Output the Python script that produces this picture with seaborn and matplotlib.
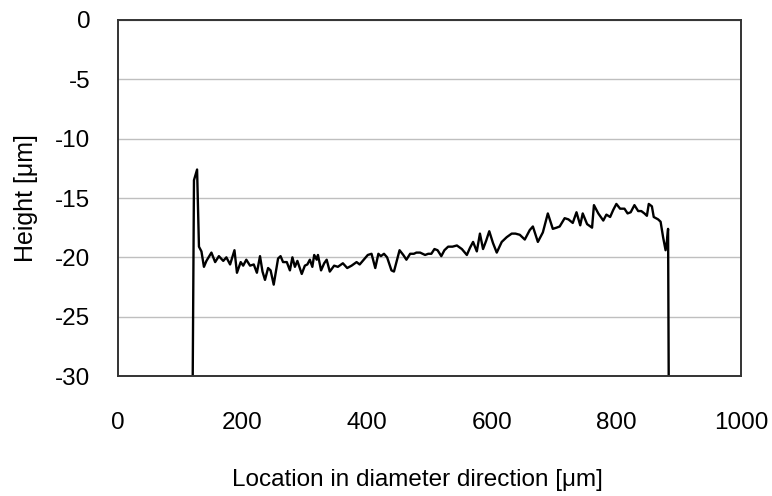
import numpy as np
import pandas as pd
import matplotlib
matplotlib.use("Agg")
import matplotlib.pyplot as plt
import seaborn as sns

# Surface profile across the diameter
location = [120, 122, 127, 130, 134, 138, 142, 150, 156, 162, 169, 174, 180, 187, 191,
            197, 201, 206, 212, 218, 223, 228, 232, 236, 241, 245, 250, 257, 261, 265,
            271, 276, 280, 284, 288, 295, 300, 304, 308, 312, 315, 319, 321, 326, 331,
            335, 340, 347, 353, 361, 368, 375, 383, 388, 396, 401, 407, 413, 418, 422,
            427, 432, 439, 443, 452, 458, 463, 469, 475, 479, 485, 489, 493, 498, 503,
            508, 513, 519, 524, 530, 537, 544, 552, 560, 565, 570, 576, 581, 586, 591,
            596, 602, 608, 616, 624, 632, 638, 645, 653, 661, 666, 674, 682, 690, 698,
            704, 709, 717, 723, 730, 736, 742, 746, 753, 761, 764, 771, 779, 784, 790,
            795, 800, 806, 813, 818, 823, 829, 835, 840, 845, 849, 852, 857, 860, 867,
            871, 875, 879, 881, 883, 884]
height = [-30.0, -13.5, -12.6, -19.1, -19.5, -20.8, -20.3, -19.6, -20.4, -19.9, -20.3, -20.0, -20.6, -19.4, -21.3,
          -20.4, -20.7, -20.2, -20.7, -20.6, -21.3, -19.9, -21.2, -21.9, -20.9, -21.1, -22.3, -20.1, -19.9, -20.4,
          -20.4, -21.1, -20.0, -20.8, -20.3, -21.4, -20.7, -20.6, -20.2, -20.8, -19.8, -20.2, -19.8, -21.1, -20.5,
          -20.2, -21.2, -20.7, -20.8, -20.5, -20.9, -20.7, -20.4, -20.6, -20.1, -19.8, -19.7, -20.9, -19.7, -19.9,
          -19.7, -20.0, -21.1, -21.2, -19.4, -19.8, -20.2, -19.7, -19.7, -19.6, -19.6, -19.7, -19.8, -19.7, -19.7,
          -19.3, -19.4, -19.9, -19.4, -19.1, -19.1, -19.0, -19.3, -19.8, -19.2, -18.7, -19.5, -18.0, -19.3, -18.6,
          -17.8, -18.8, -19.6, -18.7, -18.3, -18.0, -18.0, -18.1, -18.5, -17.7, -17.4, -18.7, -17.9, -16.3, -17.6,
          -17.5, -17.4, -16.7, -16.8, -17.1, -16.2, -17.3, -16.3, -17.2, -17.5, -15.6, -16.3, -16.9, -16.4, -16.6,
          -16.0, -15.5, -15.9, -15.9, -16.3, -16.2, -15.6, -16.1, -16.1, -16.3, -16.5, -15.5, -15.7, -16.6, -16.8,
          -17.0, -18.3, -19.4, -18.7, -17.6, -30.0]

x_ticks = [0, 200, 400, 600, 800, 1000]
y_ticks = [0, -5, -10, -15, -20, -25, -30]

df = pd.DataFrame({"location": location, "height": height})

sns.set_style("white")
plt.rcParams["font.family"] = ["Liberation Sans", "DejaVu Sans"]
plt.rcParams["text.color"] = "black"
plt.rcParams["axes.labelcolor"] = "black"

fig = plt.figure(figsize=(7.72, 4.96), dpi=100)
ax = fig.add_axes([0.1528, 0.2419, 0.8070, 0.7178])

ax.yaxis.grid(True, color="#bfbfbf", linewidth=1.0)
ax.set_axisbelow(True)

sns.lineplot(data=df, x="location", y="height", sort=False, color="black",
             linewidth=1.7, ax=ax)

ax.set_xlim(0, 1000)
ax.set_ylim(-30, 0)
ax.set_xticks(x_ticks)
ax.set_yticks(y_ticks)
ax.set_xticklabels([str(v) for v in x_ticks])
ax.set_yticklabels([str(v) for v in y_ticks])
ax.tick_params(axis="both", length=0, labelsize=17.5, colors="black")
ax.tick_params(axis="x", pad=26)
ax.tick_params(axis="y", pad=20)

for s in ax.spines.values():
    s.set_color("#333333")
    s.set_linewidth(1.4)
    s.set_visible(True)

ax.set_xlabel("Location in diameter direction [μm]", fontsize=17.5, color="black")
ax.xaxis.set_label_coords(0.48, -0.26)
ax.set_ylabel("Height [μm]", fontsize=18, labelpad=12, color="black")

fig.savefig("out.png", dpi=100)
